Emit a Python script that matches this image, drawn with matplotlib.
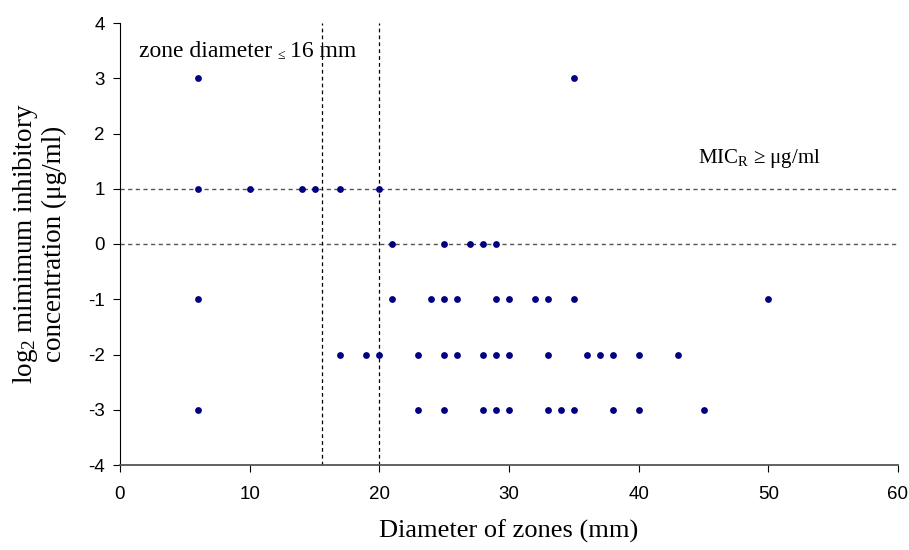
import numpy as np
import matplotlib.pyplot as plt

plt.rcParams['mathtext.fontset'] = 'custom'
plt.rcParams['mathtext.rm'] = 'Liberation Serif'
plt.rcParams['mathtext.it'] = 'Liberation Serif:italic'
plt.rcParams['axes.unicode_minus'] = False

# zone diameter (mm) for each log2 MIC level
d_p3 = [6, 35]
d_p1 = [6, 10, 14, 15, 17, 20]
d_0 = [21, 25, 27, 28, 29]
d_m1 = [6, 21, 24, 25, 26, 29, 30, 32, 33, 35, 50]
d_m2 = [17, 19, 20, 23, 25, 26, 28, 29, 30, 33, 36, 37, 38, 40, 43]
d_m3 = [6, 23, 25, 28, 29, 30, 33, 34, 35, 38, 40, 45]

levels = [3, 1, 0, -1, -2, -3]
groups = [d_p3, d_p1, d_0, d_m1, d_m2, d_m3]

x = []
y = []
for lv, g in zip(levels, groups):
    x += g
    y += [lv] * len(g)

fig = plt.figure(figsize=(9.09, 5.5), dpi=100)
ax = fig.add_axes([120/909, 85/550, 778/909, 442/550])

ax.axhline(1, color="#555555", ls=(0, (3, 2.5)), lw=1, zorder=1)
ax.axhline(0, color="#555555", ls=(0, (3, 2.5)), lw=1, zorder=1)
ax.axvline(15.6, color="k", ls=(0, (3, 2.5)), lw=0.9, zorder=1)
ax.axvline(20, color="k", ls=(0, (3, 2.5)), lw=0.9, zorder=1)

ax.scatter(x, y, s=24, color="#000080", zorder=3, linewidths=0)

ax.set_xlim(0, 60)
ax.set_ylim(-4, 4)
ax.set_xticks(np.arange(0, 61, 10))
ax.set_yticks(np.arange(-4, 5, 1))
ax.spines["top"].set_visible(False)
ax.spines["right"].set_visible(False)
ax.spines["bottom"].set_color("#555555")
ax.spines["bottom"].set_linewidth(1.3)
ax.tick_params(direction="out", length=5, labelsize=13.5)
ax.tick_params(axis="x", pad=10)
ax.tick_params(axis="y", pad=6)
for lab in ax.get_xticklabels() + ax.get_yticklabels():
    lab.set_family("Liberation Sans")

ax.set_xlabel("Diameter of zones (mm)", family="Liberation Serif", fontsize=19, va="center")
ax.xaxis.set_label_coords(0.5, (465 - 531) / 442)
ax.set_ylabel("log$_2$ mimimum inhibitory\nconcentration (μg/ml)", family="Liberation Serif",
              fontsize=19.5, va="center", linespacing=1.1)
ax.yaxis.set_label_coords((39 - 120) / 778, 0.5)

t1 = ax.text(1.5, 3.38, "zone diameter ", family="Liberation Serif", fontsize=17, va="baseline")
t2 = ax.annotate("≤ ", xy=(1, 0), xycoords=t1, family="Liberation Serif", fontsize=10, va="bottom")
ax.annotate("16 mm", xy=(1, 0), xycoords=t2, family="Liberation Serif", fontsize=17, va="bottom")
ax.text(44.6, 1.47, "MIC$_\\mathrm{R}$ ≥ μg/ml", family="Liberation Serif", fontsize=15, va="baseline")

plt.savefig("out.png")
